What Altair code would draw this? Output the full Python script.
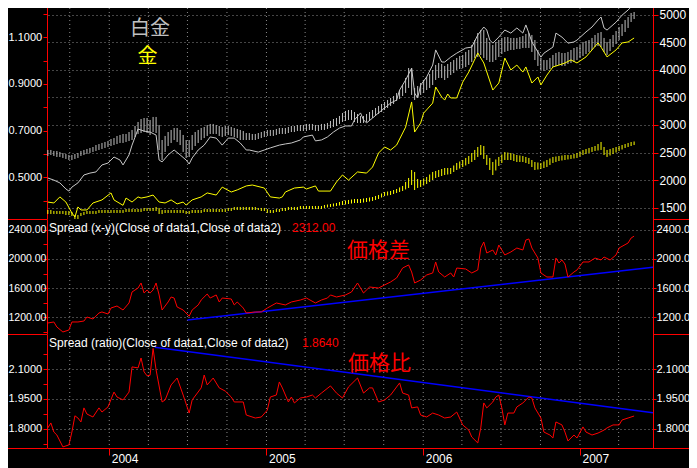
import altair as alt
import pandas as pd

START = pd.Timestamp("2003-08-11")  # week 0 of the weekly series

# ---------------- data (week number, value) ----------------
white_line = [(0,0.497),(2,0.488),(4,0.476),(6,0.450),(7,0.441),(8,0.458),(10,0.476),(12,0.510),(14,0.518),(16,0.523),(18,0.553),(20,0.561),(22,0.587),(24,0.574),(25,0.553),(27,0.596),(28,0.638),(30,0.707),(32,0.698),(34,0.694),(36,0.681),(37,0.574),(38,0.566),(40,0.596),(42,0.617),(44,0.596),(46,0.574),(47,0.557),(48,0.583),(50,0.617),(52,0.638),(54,0.673),(56,0.668),(58,0.638),(60,0.668),(62,0.668),(64,0.647),(66,0.617),(67,0.617),(70,0.608),(72,0.617),(74,0.626),(77,0.638),(79,0.643),(81,0.647),(84,0.660),(85,0.673),(88,0.681),(89,0.656),(91,0.660),(93,0.673),(95,0.694),(97,0.711),(99,0.720),(101,0.720),(102,0.746),(104,0.776),(105,0.746),(106,0.733),(108,0.754),(110,0.776),(112,0.797),(114,0.818),(116,0.831),(117,0.874),(119,0.917),(121,0.968),(122,0.861),(123,0.840),(124,0.895),(126,0.930),(128,0.981),(129,1.046),(131,0.994),(132,0.994),(134,1.015),(136,1.032),(139,1.054),(141,1.058),(143,1.110),(145,1.144),(146,1.131),(147,1.088),(148,1.075),(150,1.101),(152,1.131),(154,1.118),(156,1.140),(158,1.118),(159,1.153),(160,1.118),(161,1.080),(163,1.037),(164,1.015),(165,1.032),(168,1.058),(169,1.118),(171,1.101),(173,1.075),(175,1.080),(176,1.088),(179,1.123),(181,1.144),(183,1.174),(184,1.187),(185,1.140),(186,1.131),(189,1.165),(191,1.195),(193,1.217),(194,1.230),(195,1.243)]

gold_line = [(0,0.394),(2,0.390),(4,0.416),(6,0.394),(8,0.347),(9,0.330),(10,0.373),(11,0.360),(13,0.360),(15,0.390),(18,0.403),(21,0.433),(22,0.403),(25,0.380),(26,0.411),(28,0.394),(30,0.416),(31,0.411),(33,0.416),(35,0.424),(37,0.394),(39,0.390),(41,0.403),(43,0.386),(45,0.394),(46,0.381),(48,0.403),(51,0.416),(53,0.433),(56,0.424),(58,0.458),(61,0.437),(63,0.446),(66,0.463),(68,0.467),(72,0.454),(74,0.416),(77,0.411),(78,0.416),(79,0.437),(82,0.454),(85,0.458),(86,0.450),(89,0.463),(90,0.441),(94,0.441),(96,0.480),(98,0.510),(100,0.488),(103,0.523),(106,0.518),(108,0.544),(110,0.604),(112,0.630),(114,0.617),(116,0.638),(119,0.715),(121,0.823),(122,0.694),(124,0.733),(125,0.775),(128,0.818),(129,0.887),(131,0.844),(132,0.831),(133,0.857),(134,0.840),(136,0.840),(138,0.908),(140,0.951),(143,1.033),(145,0.990),(148,0.874),(150,0.904),(152,1.011),(154,0.960),(156,0.981),(158,0.951),(159,0.973),(161,0.904),(163,0.930),(164,0.896),(166,0.938),(168,0.973),(170,0.981),(172,0.990),(174,1.003),(176,0.990),(179,1.016),(181,1.046),(183,1.076),(184,1.058),(186,1.016),(189,1.046),(191,1.076),(193,1.080),(195,1.097)]

# weekly OHLC ranges (week, high, low) in yen
plat_bars = [(0,2546,2437),(1,2546,2455),(2,2528,2437),(3,2528,2419),(4,2510,2419),(5,2491,2401),(6,2473,2383),(7,2455,2364),(8,2455,2364),(9,2473,2383),(10,2491,2401),(11,2528,2437),(12,2546,2455),(13,2564,2473),(14,2582,2491),(15,2600,2510),(16,2636,2528),(17,2654,2546),(18,2673,2564),(19,2691,2582),(20,2709,2600),(21,2745,2618),(22,2763,2636),(23,2800,2654),(24,2818,2673),(25,2836,2673),(26,2836,2691),(27,2872,2709),(28,2909,2727),(29,2981,2781),(30,3054,2836),(31,3108,2854),(32,3126,2872),(33,3126,2854),(34,3090,2818),(35,3145,2872),(36,3145,2854),(37,2999,2546),(38,2727,2364),(39,2800,2510),(40,2872,2618),(41,2909,2673),(42,2945,2727),(43,2945,2691),(44,2909,2636),(45,2818,2510),(46,2727,2401),(47,2727,2419),(48,2818,2546),(49,2872,2618),(50,2909,2673),(51,2945,2727),(52,2963,2763),(53,2999,2800),(54,3018,2836),(55,3018,2836),(56,2999,2836),(57,2981,2800),(58,2963,2781),(59,2981,2800),(60,2981,2818),(61,2963,2800),(62,2945,2781),(63,2927,2763),(64,2909,2727),(65,2890,2727),(66,2854,2727),(67,2854,2727),(68,2836,2727),(69,2836,2727),(70,2854,2745),(71,2872,2763),(72,2890,2781),(73,2909,2800),(74,2909,2800),(75,2909,2800),(76,2927,2818),(77,2945,2836),(78,2945,2836),(79,2945,2836),(80,2963,2854),(81,2981,2872),(82,2981,2872),(83,2999,2890),(84,2999,2890),(85,2999,2890),(86,3018,2890),(87,3018,2909),(88,3018,2909),(89,2999,2890),(90,2999,2890),(91,3018,2909),(92,3018,2909),(93,3036,2927),(94,3072,2945),(95,3108,2963),(96,3126,2981),(97,3163,3018),(98,3217,3054),(99,3253,3072),(100,3271,3090),(101,3271,3090),(102,3235,3054),(103,3199,3036),(104,3163,3036),(105,3163,3036),(106,3199,3054),(107,3235,3090),(108,3271,3126),(109,3308,3163),(110,3344,3199),(111,3380,3235),(112,3416,3271),(113,3453,3308),(114,3489,3344),(115,3525,3380),(116,3580,3435),(117,3634,3471),(118,3725,3525),(119,3852,3580),(120,4033,3671),(121,4033,3544),(122,3671,3453),(123,3707,3489),(124,3761,3544),(125,3816,3580),(126,3870,3634),(127,3924,3671),(128,3997,3725),(129,4088,3816),(130,4124,3852),(131,4106,3852),(132,4070,3816),(133,4106,3852),(134,4142,3906),(135,4178,3942),(136,4215,3997),(137,4251,4015),(138,4269,4033),(139,4324,4051),(140,4360,4088),(141,4450,4142),(142,4541,4215),(143,4668,4233),(144,4722,4269),(145,4722,4215),(146,4578,4178),(147,4505,4142),(148,4450,4142),(149,4505,4178),(150,4541,4233),(151,4578,4287),(152,4595,4324),(153,4595,4342),(154,4578,4360),(155,4578,4360),(156,4578,4378),(157,4595,4378),(158,4614,4396),(159,4650,4396),(160,4668,4396),(161,4632,4324),(162,4541,4178),(163,4360,4070),(164,4215,3997),(165,4178,3979),(166,4178,3997),(167,4215,4015),(168,4269,4051),(169,4305,4070),(170,4324,4088),(171,4305,4070),(172,4305,4070),(173,4324,4106),(174,4360,4124),(175,4396,4142),(176,4414,4178),(177,4450,4215),(178,4505,4251),(179,4523,4287),(180,4541,4324),(181,4578,4360),(182,4632,4414),(183,4668,4432),(184,4686,4414),(185,4578,4324),(186,4505,4269),(187,4559,4342),(188,4632,4414),(189,4704,4468),(190,4777,4541),(191,4831,4614),(192,4904,4686),(193,4958,4759),(194,5031,4868),(195,5049,4922)]

gold_bars = [(0,1457,1385),(1,1457,1385),(2,1439,1385),(3,1439,1385),(4,1439,1385),(5,1439,1385),(6,1439,1366),(7,1439,1366),(8,1421,1348),(9,1366,1294),(10,1366,1294),(11,1403,1348),(12,1421,1366),(13,1439,1385),(14,1439,1385),(15,1439,1385),(16,1439,1385),(17,1457,1403),(18,1457,1403),(19,1457,1403),(20,1457,1403),(21,1457,1403),(22,1457,1403),(23,1457,1403),(24,1457,1403),(25,1457,1403),(26,1475,1421),(27,1475,1421),(28,1475,1421),(29,1475,1421),(30,1475,1421),(31,1475,1421),(32,1494,1439),(33,1494,1439),(34,1494,1439),(35,1494,1439),(36,1512,1439),(37,1494,1385),(38,1457,1385),(39,1457,1403),(40,1457,1403),(41,1457,1403),(42,1457,1403),(43,1457,1403),(44,1457,1403),(45,1457,1403),(46,1439,1385),(47,1439,1385),(48,1457,1403),(49,1457,1403),(50,1457,1403),(51,1457,1403),(52,1475,1421),(53,1475,1421),(54,1475,1421),(55,1475,1421),(56,1475,1421),(57,1475,1421),(58,1475,1421),(59,1475,1421),(60,1494,1439),(61,1494,1439),(62,1512,1457),(63,1512,1457),(64,1512,1457),(65,1512,1457),(66,1512,1457),(67,1512,1457),(68,1512,1457),(69,1512,1457),(70,1494,1457),(71,1494,1439),(72,1494,1439),(73,1475,1403),(74,1457,1403),(75,1457,1403),(76,1475,1421),(77,1475,1421),(78,1494,1439),(79,1494,1439),(80,1512,1457),(81,1512,1457),(82,1512,1457),(83,1512,1457),(84,1530,1475),(85,1530,1475),(86,1530,1475),(87,1530,1475),(88,1530,1475),(89,1530,1475),(90,1530,1475),(91,1530,1475),(92,1548,1494),(93,1557,1503),(94,1566,1512),(95,1575,1521),(96,1584,1530),(97,1602,1539),(98,1621,1548),(99,1630,1557),(100,1639,1566),(101,1648,1575),(102,1657,1584),(103,1657,1584),(104,1657,1584),(105,1666,1593),(106,1675,1602),(107,1684,1611),(108,1693,1621),(109,1711,1639),(110,1729,1657),(111,1757,1684),(112,1784,1711),(113,1793,1720),(114,1802,1729),(115,1820,1748),(116,1838,1766),(117,1866,1784),(118,1893,1802),(119,1966,1830),(120,2038,1857),(121,2183,1911),(122,2147,1820),(123,2020,1857),(124,2001,1875),(125,2029,1902),(126,2056,1929),(127,2101,1965),(128,2147,2001),(129,2165,2038),(130,2183,2056),(131,2201,2074),(132,2219,2092),(133,2219,2101),(134,2219,2110),(135,2265,2147),(136,2310,2183),(137,2337,2210),(138,2364,2237),(139,2401,2265),(140,2437,2292),(141,2491,2328),(142,2546,2364),(143,2600,2419),(144,2636,2455),(145,2618,2383),(146,2455,2274),(147,2401,2183),(148,2328,2092),(149,2374,2174),(150,2419,2256),(151,2464,2310),(152,2509,2364),(153,2500,2364),(154,2491,2364),(155,2473,2346),(156,2455,2328),(157,2446,2328),(158,2437,2328),(159,2419,2310),(160,2401,2292),(161,2364,2237),(162,2328,2183),(163,2319,2192),(164,2310,2201),(165,2337,2219),(166,2364,2237),(167,2392,2274),(168,2419,2310),(169,2428,2328),(170,2437,2346),(171,2446,2355),(172,2455,2364),(173,2455,2374),(174,2455,2383),(175,2473,2392),(176,2491,2401),(177,2519,2428),(178,2546,2455),(179,2564,2473),(180,2582,2491),(181,2600,2510),(182,2618,2528),(183,2654,2537),(184,2691,2546),(185,2600,2455),(186,2546,2419),(187,2564,2446),(188,2582,2473),(189,2600,2500),(190,2618,2528),(191,2636,2555),(192,2654,2582),(193,2673,2600),(194,2691,2618),(195,2700,2636)]

spread = [(0,1122),(2,1136),(3,1067),(5,999),(7,1026),(8,1136),(10,1136),(12,1149),(13,1204),(15,1177),(17,1259),(18,1273),(20,1245),(21,1327),(23,1355),(25,1300),(27,1396),(28,1547),(30,1601),(31,1670),(32,1533),(33,1574),(34,1533),(35,1574),(36,1670),(37,1506),(38,1300),(40,1410),(41,1478),(42,1464),(43,1341),(45,1300),(47,1215),(48,1300),(50,1369),(51,1437),(53,1519),(54,1464),(56,1506),(57,1410),(58,1464),(61,1451),(62,1369),(63,1410),(65,1327),(66,1259),(69,1273),(71,1273),(73,1327),(76,1396),(79,1369),(81,1410),(84,1437),(86,1464),(89,1396),(91,1437),(93,1464),(94,1506),(96,1478),(99,1506),(101,1547),(103,1670),(105,1533),(107,1615),(110,1601),(112,1643),(114,1684),(116,1739),(118,1875),(120,1917),(121,1821),(122,1670),(124,1711),(126,1780),(128,1807),(129,1958),(130,1821),(132,1752),(134,1807),(135,1752),(136,1875),(139,1862),(141,1807),(143,1848),(144,2149),(145,2232),(146,2081),(148,2122),(149,2054),(150,2190),(152,2054),(154,2095),(156,2149),(158,2122),(159,2259),(160,2273),(161,2149),(163,2012),(164,1807),(166,1752),(168,1752),(169,2012),(170,1944),(171,1985),(172,1930),(173,1752),(175,1821),(176,1848),(178,1958),(180,1958),(182,2012),(184,1985),(185,2026),(187,1985),(189,2054),(190,2149),(193,2218),(194,2286),(195,2312)]

ratio = [(0,1.804),(1,1.829),(2,1.783),(3,1.768),(5,1.708),(6,1.713),(7,1.718),(8,1.783),(9,1.865),(10,1.854),(11,1.834),(12,1.905),(13,1.874),(15,1.859),(17,1.905),(18,1.884),(20,1.910),(22,1.985),(23,1.960),(25,1.945),(27,1.985),(28,2.112),(30,2.107),(31,2.157),(32,2.087),(33,2.067),(34,2.070),(35,2.205),(36,2.097),(38,1.935),(39,1.945),(41,2.021),(43,2.056),(45,1.970),(47,1.879),(48,1.945),(51,2.006),(52,2.071),(53,2.021),(55,2.056),(57,2.006),(59,1.990),(61,1.960),(62,1.935),(65,1.935),(66,1.869),(69,1.854),(71,1.859),(73,1.894),(74,1.960),(76,1.970),(77,2.036),(78,2.006),(80,1.935),(81,1.960),(82,1.930),(84,1.955),(86,1.960),(88,1.970),(89,1.955),(91,1.980),(94,2.016),(96,1.980),(98,1.955),(100,2.011),(103,2.056),(105,1.980),(107,2.006),(108,2.006),(110,1.935),(112,1.945),(114,1.970),(117,2.031),(118,1.980),(120,1.970),(121,1.905),(123,1.910),(124,1.869),(126,1.859),(128,1.879),(130,1.869),(132,1.854),(134,1.859),(136,1.884),(138,1.819),(140,1.793),(141,1.758),(143,1.728),(144,1.804),(145,1.930),(146,1.905),(148,1.935),(149,1.960),(150,1.970),(151,1.905),(152,1.819),(153,1.879),(155,1.879),(156,1.910),(158,1.930),(160,1.960),(161,1.955),(162,1.905),(164,1.854),(165,1.783),(167,1.768),(168,1.753),(169,1.834),(171,1.819),(172,1.783),(173,1.738),(175,1.768),(176,1.753),(178,1.809),(179,1.783),(181,1.768),(183,1.778),(185,1.793),(186,1.804),(188,1.819),(190,1.819),(191,1.844),(193,1.854),(195,1.864)]

spread_trend = [("2004-07-01", 1163), ("2007-06-20", 1885)]
ratio_trend = [("2004-04-16", 2.211), ("2007-06-20", 1.881)]

quarters = ["2003-10-01","2004-01-01","2004-04-01","2004-07-01","2004-10-01","2005-01-01","2005-04-01",
            "2005-07-01","2005-10-01","2006-01-01","2006-04-01","2006-07-01","2006-10-01","2007-01-01","2007-04-01"]
years = [2004, 2005, 2006, 2007]

title_pt, title_au = "白金", "金"
spread_title, spread_last = "Spread (x-y)(Close of data1,Close of data2)", "2312.00"
ratio_title, ratio_last = "Spread (ratio)(Close of data1,Close of data2)", "1.8640"
spread_note, ratio_note = "価格差", "価格比"

# ---------------- frames ----------------
def weekly(pairs, cols):
    df = pd.DataFrame(pairs, columns=["week"] + cols).sort_values("week")
    df["date"] = START + pd.to_timedelta(df["week"] * 7, unit="D")
    return df.drop(columns="week")

wl = weekly(white_line, ["v"])
gl = weekly(gold_line, ["v"])
wb = weekly(plat_bars, ["hi", "lo"])
gb = weekly(gold_bars, ["hi", "lo"])
sp = weekly(spread, ["v"])
ra = weekly(ratio, ["v"])
spt = pd.DataFrame(spread_trend, columns=["date", "v"]); spt["date"] = pd.to_datetime(spt["date"])
rat = pd.DataFrame(ratio_trend, columns=["date", "v"]); rat["date"] = pd.to_datetime(rat["date"])
qdf = pd.DataFrame({"date": pd.to_datetime(quarters)})
one = pd.DataFrame({"k": [0]})

# ---------------- scales ----------------
XS = alt.Scale(domain=[alt.DateTime(year=2003, month=8, date=9), alt.DateTime(year=2007, month=6, date=20)])
TOP_V = alt.Scale(domain=[1294, 5266.7], range=[211, -8], nice=False, zero=False)
TOP_L = alt.Scale(domain=[0.3213, 1.2599], range=[211, -8], nice=False, zero=False)
MID = alt.Scale(domain=[971.2, 2546.7], range=[326, 211], nice=False, zero=False)
BOT = alt.Scale(domain=[1.7025, 2.2782], range=[440, 326], nice=False, zero=False)

SANS = "Liberation Sans"
CJK = "Noto Sans CJK JP"

def left_axis(vals, expr, size=11):
    return alt.Axis(orient="left", values=vals, labelExpr=expr, tickSize=4, labelAlign="left",
                    labelPadding=35, grid=False, title=None, labelFont=SANS, labelFontSize=size)

def right_axis(vals, fmt, size=12, tick=5, pad=1):
    return alt.Axis(orient="right", values=vals, format=fmt, tickSize=tick, labelPadding=pad,
                    grid=True, title=None, labelFontSize=size)

XAXIS = alt.Axis(orient="bottom", values=[alt.DateTime(year=y, month=1, date=1) for y in years],
                 format="%Y", tickSize=7, labelAlign="left", labelBaseline="top", labelPadding=-2,
                 labelOffset=2, grid=False, title=None)

def X():
    return alt.X("date:T", scale=XS, axis=XAXIS)

layers = []
layers.append(alt.Chart(qdf).mark_rule(color="#8a8a8a", strokeDash=[1, 3], strokeWidth=1).encode(
    x=X(), y=alt.value(0), y2=alt.value(440)))

layers.append(alt.Chart(wb).mark_rule(color="#c0c0c0", strokeWidth=1).encode(
    x=X(), y=alt.Y("hi:Q", scale=TOP_V, axis=right_axis([1500, 2000, 2500, 3000, 3500, 4000, 4500, 5000], "d")),
    y2="lo:Q"))
layers.append(alt.Chart(gb).mark_rule(color="#ffff00", strokeWidth=1).encode(
    x=X(), y=alt.Y("hi:Q", scale=TOP_V, axis=None), y2="lo:Q"))
layers.append(alt.Chart(wl).mark_line(color="#c8c8c8", strokeWidth=1).encode(
    x=X(), y=alt.Y("v:Q", scale=TOP_L,
                   axis=left_axis([0.4, 0.5, 0.6, 0.7, 0.8, 0.9, 1.0, 1.1, 1.2],
                                  "round(datum.value*10) % 2 == 1 ? format(datum.value, '.4f') : ''"))))
layers.append(alt.Chart(gl).mark_line(color="#ffff00", strokeWidth=1).encode(
    x=X(), y=alt.Y("v:Q", scale=TOP_L, axis=None)))

layers.append(alt.Chart(spt).mark_line(color="#0000ff", strokeWidth=1.5).encode(
    x=X(), y=alt.Y("v:Q", scale=MID, axis=right_axis([1200, 1600, 2000, 2400], ".2f", 11, 3, 0))))
layers.append(alt.Chart(sp).mark_line(color="#ff0000", strokeWidth=1).encode(
    x=X(), y=alt.Y("v:Q", scale=MID,
                   axis=left_axis([1000, 1200, 1400, 1600, 1800, 2000, 2200, 2400],
                                  "datum.value % 400 == 0 ? format(datum.value, '.2f') : ''",
                                  size=10.5))))

layers.append(alt.Chart(rat).mark_line(color="#0000ff", strokeWidth=1.5).encode(
    x=X(), y=alt.Y("v:Q", scale=BOT, axis=right_axis([1.8, 1.95, 2.1], ".4f", 11, 3, 0))))
layers.append(alt.Chart(ra).mark_line(color="#ff0000", strokeWidth=1).encode(
    x=X(), y=alt.Y("v:Q", scale=BOT,
                   axis=left_axis([1.725, 1.8, 1.875, 1.95, 2.025, 2.1, 2.175],
                                  "round(datum.value*1000) % 150 == 0 ? format(datum.value, '.4f') : ''"))))

def label(txt, x, y, color, size, font, align="left", baseline="alphabetic"):
    return alt.Chart(pd.DataFrame({"t": [txt]})).mark_text(
        align=align, baseline=baseline, color=color, fontSize=size, font=font).encode(
        text="t:N", x=alt.value(x), y=alt.value(y))

layers += [
    label(title_pt, 103, 21, "#c0c0c0", 20, CJK, "center", "middle"),
    label(title_au, 100.5, 49, "#ffff00", 20, CJK, "center", "middle"),
    label(spread_title, 2, 223.5, "#ffffff", 12, SANS),
    label(spread_last, 245, 223.5, "#ff0000", 12, SANS),
    label(ratio_title, 2, 338.5, "#ffffff", 12, SANS),
    label(ratio_last, 255, 338.5, "#ff0000", 12, SANS),
    label(spread_note, 331.5, 243, "#ff0000", 21, CJK, "center", "middle"),
    label(ratio_note, 332.5, 355.5, "#ff0000", 21, CJK, "center", "middle"),
]

def hrule(x1, x2, y):
    return alt.Chart(one).mark_rule(color="#ff0000", strokeWidth=1).encode(
        x=alt.value(x1), x2=alt.value(x2), y=alt.value(y))

layers += [hrule(-47, 0, 211.5), hrule(606, 660, 211.5),
           hrule(-47, 0, 326.5), hrule(606, 660, 326.5),
           hrule(-47, 0, 440.5), hrule(606, 660, 440.5)]

chart = alt.layer(*layers).resolve_scale(y="independent").properties(
    width=606, height=440,
    autosize=alt.AutoSizeParams(type="none"),
    padding={"left": 39, "top": 0, "right": 36, "bottom": 20},
    background="#000000",
).configure_view(strokeWidth=0).configure_axis(
    labelFont=SANS, labelFontSize=12, labelColor="#ffffff",
    domainColor="#ff0000", tickColor="#ff0000",
    gridColor="#8a8a8a", gridDash=[1, 3], gridWidth=1,
    labelOverlap=False, labelFlush=False,
)

chart.save("out.html", embed_options={"renderer": "svg", "actions": False})
